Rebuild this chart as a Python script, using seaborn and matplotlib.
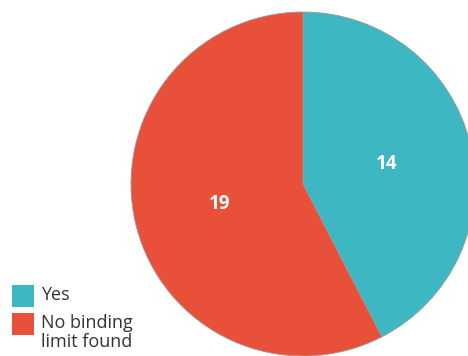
import matplotlib
matplotlib.use("Agg")
import matplotlib.pyplot as plt
from matplotlib.patches import Rectangle
import seaborn as sns

categories = ["Yes", "No binding\nlimit found"]
counts = [14, 19]
colors = ["#3db8c3", "#e8503a"]

sns.set_theme(style="white")
plt.rcParams["font.family"] = ["Open Sans", "DejaVu Sans"]

W, H = 468, 356
fig = plt.figure(figsize=(W / 100, H / 100), dpi=100)

# pie axes placed in pixel units: centre (303, 184), radius 172
cx, cy, r = 303, 184, 172
ax = fig.add_axes([(cx - r) / W, (H - cy - r) / H, 2 * r / W, 2 * r / H])
total = sum(counts)
wedges, texts, autotexts = ax.pie(
    counts,
    colors=colors,
    startangle=90,
    counterclock=False,
    radius=1.0,
    pctdistance=0.5,
    autopct=lambda p: f"{round(p * total / 100):d}",
    wedgeprops=dict(edgecolor="#9a9a9a", linewidth=0.6),
    textprops=dict(color="white", fontsize=13.5, fontweight="bold"),
)
ax.set_xlim(-1.0, 1.0)
ax.set_ylim(-1.0, 1.0)
ax.set_aspect("equal")
ax.axis("off")

# legend: colour squares with labels aligned to the first text line
sq = 22
rows_top = [285, 313]
for label, color, top in zip(categories, colors, rows_top):
    fig.patches.append(Rectangle((12 / W, (H - top - sq) / H), sq / W, sq / H,
                                 transform=fig.transFigure, facecolor=color,
                                 edgecolor="none"))
    fig.text(41 / W, (H - top - 1) / H, label, ha="left", va="top",
             fontsize=13, color="#333333", linespacing=1.1)

fig.savefig("out.png", dpi=100)
